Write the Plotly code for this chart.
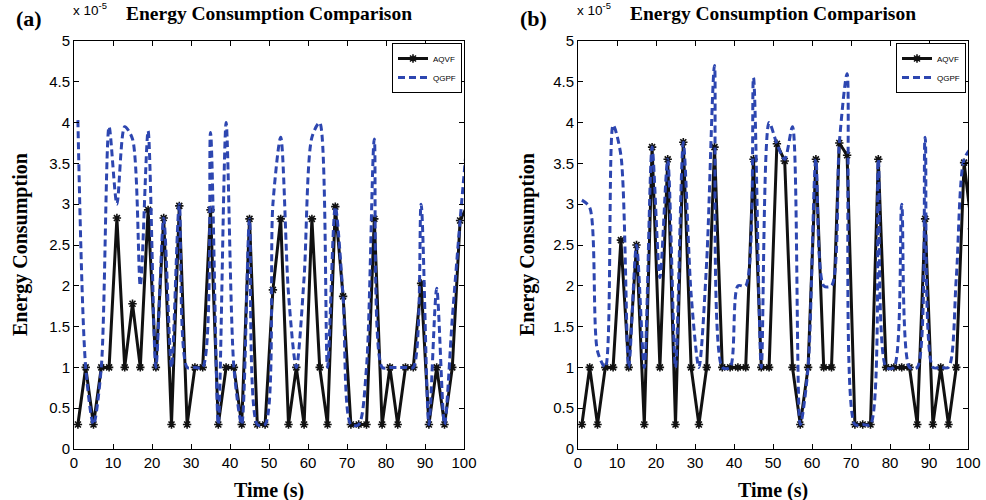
import plotly.graph_objects as go
from plotly.subplots import make_subplots

# sample times (s); energy values are in units of 1e-5
TIME = [1, 3, 5, 7, 9, 11, 13, 15, 17, 19,
        21, 23, 25, 27, 29, 31, 33, 35, 37, 39,
        41, 43, 45, 47, 49, 51, 53, 55, 57, 59,
        61, 63, 65, 67, 69, 71, 73, 75, 77, 79,
        81, 83, 85, 87, 89, 91, 93, 95, 97, 99,
        101]

AQVF_A = [0.3, 1.0, 0.3, 1.0, 1.0, 2.83, 1.0, 1.78, 1.0, 2.93,
          1.0, 2.83, 0.3, 2.98, 0.3, 1.0, 1.0, 2.93, 0.3, 1.0,
          1.0, 0.3, 2.82, 0.3, 0.3, 1.95, 2.82, 0.3, 1.0, 0.3,
          2.82, 1.0, 0.3, 2.97, 1.87, 0.3, 0.3, 0.3, 2.82, 0.3,
          1.0, 0.3, 1.0, 1.0, 2.03, 0.3, 1.0, 0.3, 1.0, 2.8,
          3.0]
QGPF_A = [4.03, 1.0, 0.3, 1.0, 3.95, 3.0, 3.95, 3.8, 2.0, 3.9,
          1.0, 2.83, 1.0, 3.0, 1.0, 1.0, 1.0, 3.88, 0.3, 4.0,
          1.0, 0.3, 2.82, 0.3, 0.3, 3.0, 3.82, 1.9, 1.0, 2.1,
          3.82, 4.0, 1.0, 2.97, 1.87, 0.3, 0.3, 1.0, 3.8, 1.0,
          1.0, 1.0, 1.0, 1.0, 3.0, 0.3, 1.97, 0.3, 1.6, 2.8,
          3.9]

AQVF_B = [0.3, 1.0, 0.3, 1.0, 1.0, 2.56, 1.0, 2.5, 0.3, 3.7,
          1.0, 3.55, 0.3, 3.76, 1.0, 0.3, 1.0, 3.7, 1.0, 1.0,
          1.0, 1.0, 3.55, 1.0, 1.0, 3.74, 3.53, 1.0, 0.3, 1.0,
          3.55, 1.0, 1.0, 3.75, 3.6, 0.3, 0.3, 0.3, 3.55, 1.0,
          1.0, 1.0, 1.0, 0.3, 2.82, 0.3, 1.0, 0.3, 1.0, 3.51,
          2.7]
QGPF_B = [3.05, 2.96, 1.2, 1.0, 3.97, 3.6, 1.0, 2.5, 1.0, 3.7,
          2.1, 3.55, 1.0, 3.76, 1.9, 1.0, 2.3, 4.7, 1.0, 1.0,
          2.0, 2.0, 4.55, 1.0, 4.0, 3.74, 3.55, 3.95, 0.3, 1.0,
          3.55, 2.0, 2.0, 3.75, 4.6, 0.3, 0.3, 0.3, 3.55, 1.0,
          1.0, 3.0, 1.0, 1.0, 3.82, 1.0, 1.0, 1.0, 2.1, 3.55,
          3.7]

X_TICKS = [0, 10, 20, 30, 40, 50, 60, 70, 80, 90, 100]
Y_TICKS = [0, 0.5, 1, 1.5, 2, 2.5, 3, 3.5, 4, 4.5, 5]
Y_LABELS = ["0", "0.5", "1", "1.5", "2", "2.5", "3", "3.5", "4", "4.5", "5"]

BLACK = "#111111"
BLUE = "#2D46B0"
SERIF = "Liberation Serif, Times New Roman, serif"
SANS = "Liberation Sans, Arial, sans-serif"

W, H = 986, 500


def px(x):
    return x / W


def py(y):
    return 1 - y / H


fig = make_subplots(rows=1, cols=2)

panels = [(AQVF_A, QGPF_A, "legend"), (AQVF_B, QGPF_B, "legend2")]
for col, (aqvf, qgpf, leg) in enumerate(panels, start=1):
    fig.add_trace(go.Scatter(
        x=TIME, y=aqvf, mode="lines+markers", name="AQVF", legend=leg,
        line=dict(color=BLACK, width=3),
        marker=dict(symbol="asterisk-open", size=7, color=BLACK, line=dict(width=1.6, color=BLACK)),
    ), row=1, col=col)
    fig.add_trace(go.Scatter(
        x=TIME, y=qgpf, mode="lines", name="QGPF", legend=leg,
        line=dict(color=BLUE, width=3, dash="7px,4px", shape="spline", smoothing=0.8),
    ), row=1, col=col)

axis_style = dict(
    showline=True, linecolor="black", linewidth=1, mirror="ticks", automargin=False,
    ticks="inside", ticklen=5, tickcolor="black", showgrid=False, zeroline=False,
    tickfont=dict(family=SANS, size=15, color="black"),
)
fig.update_xaxes(range=[0, 100], tickvals=X_TICKS, **axis_style)
fig.update_yaxes(range=[0, 5], tickvals=Y_TICKS, ticktext=Y_LABELS, **axis_style)

ydom = [py(449), py(41)]
dom_a = [px(74), px(464)]
dom_b = [px(578), px(968)]

legend_style = dict(
    bgcolor="white", bordercolor="black", borderwidth=1,
    font=dict(family=SANS, size=8, color="black"),
    tracegroupgap=0, itemwidth=30, xanchor="right", yanchor="top", y=py(43),
)

fig.update_layout(
    template="none",
    width=W, height=H,
    margin=dict(l=0, r=0, t=0, b=0),
    paper_bgcolor="white", plot_bgcolor="white",
    xaxis=dict(domain=dom_a), xaxis2=dict(domain=dom_b),
    yaxis=dict(domain=ydom), yaxis2=dict(domain=ydom),
    legend=dict(x=dom_a[1] - 2 / W, **legend_style),
    legend2=dict(x=dom_b[1] - 2 / W, **legend_style),
)

title_font = dict(family=SERIF, size=19.5, color="black", weight="bold")
label_font = dict(family=SERIF, size=20, color="black", weight="bold")
for dom, tag, tag_x, ylab_x in [(dom_a, "(a)", 14, 20), (dom_b, "(b)", 518, 527)]:
    mid = (dom[0] + dom[1]) / 2
    fig.add_annotation(text="Energy Consumption Comparison", x=mid, y=py(13),
                       xref="paper", yref="paper", xanchor="center", yanchor="middle",
                       showarrow=False, font=title_font)
    fig.add_annotation(text=tag, x=px(tag_x), y=py(18), xref="paper", yref="paper",
                       xanchor="left", yanchor="middle", showarrow=False,
                       font=dict(family=SERIF, size=22, color="black", weight="bold"))
    fig.add_annotation(text="x 10<sup>-5</sup>", x=dom[0] - 3 / W, y=py(20),
                       xref="paper", yref="paper", xanchor="left", yanchor="bottom",
                       showarrow=False, font=dict(family=SANS, size=13.5, color="black"))
    fig.add_annotation(text="Time (s)", x=mid, y=py(490), xref="paper", yref="paper",
                       xanchor="center", yanchor="middle", showarrow=False, font=label_font)
    fig.add_annotation(text="Energy Consumption", x=px(ylab_x), y=(ydom[0] + ydom[1]) / 2,
                       xref="paper", yref="paper", xanchor="center", yanchor="middle",
                       textangle=-90, showarrow=False, font=label_font)

# drop the browser's default 8px body margin so the figure fills the window
fig.write_html("out.html", config={"displayModeBar": False},
               post_script="document.body.style.margin = '0';")
